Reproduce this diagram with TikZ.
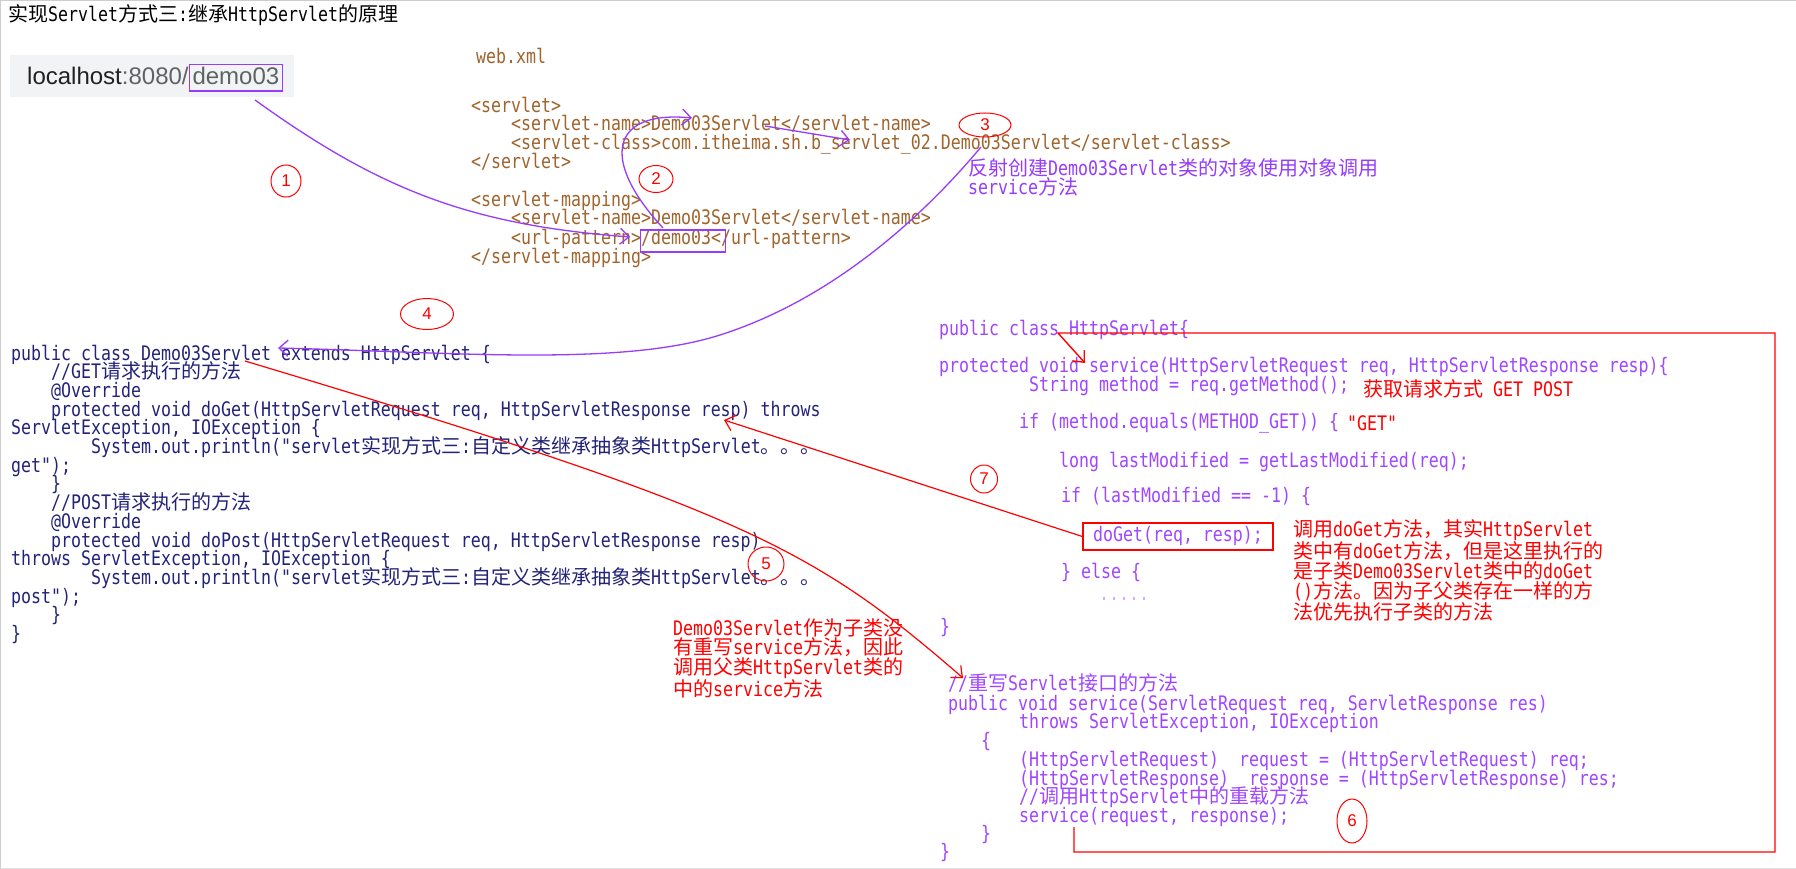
\documentclass[tikz,border=0pt]{standalone}
\usepackage{fontspec}
\usetikzlibrary{arrows.meta,shapes.geometric}
\newfontfamily\codefont{DejaVu Sans Mono}[FakeStretch=0.83]
\newfontfamily\zhfont{Noto Sans CJK SC}
\newfontfamily\urlfont{Liberation Sans}
% switch to the CJK font for Chinese characters
\XeTeXinterchartokenstate=1
\newXeTeXintercharclass\zhclass
\newcount\zhcode
\zhcode="4E00
\loop
  \XeTeXcharclass\zhcode=\zhclass
  \ifnum\zhcode<"9FFF \advance\zhcode by 1 \repeat
\XeTeXcharclass"3002=\zhclass
\XeTeXcharclass"FF0C=\zhclass
\XeTeXinterchartoks 0 \zhclass = {\zhfont}
\XeTeXinterchartoks 4095 \zhclass = {\zhfont}
\XeTeXinterchartoks \zhclass 0 = {\codefont}
\XeTeXinterchartoks \zhclass 4095 = {\codefont}
\definecolor{xmlbrown}{RGB}{160,100,45}
\definecolor{subnavy}{RGB}{35,35,120}
\definecolor{penpurple}{RGB}{150,60,250}
\definecolor{parentpurple}{RGB}{160,70,255}
\definecolor{urlbg}{RGB}{241,243,244}
\definecolor{urldark}{RGB}{32,33,36}
\definecolor{urlgray}{RGB}{95,99,104}
\definecolor{framegray}{RGB}{205,205,205}

\begin{document}
\begin{tikzpicture}[x=1pt, y=-1pt, >={Straight Barb[length=9pt,width=16pt]},
	code/.style={anchor=west, inner sep=0pt, text height=15pt, text depth=5pt, font=\codefont\fontsize{20}{19}\selectfont},
	xml/.style={code, text=xmlbrown},
	subcode/.style={code, text=subnavy},
	parentcode/.style={code, text=parentpurple},
	note/.style={anchor=west, inner sep=0pt, align=left, font=\codefont\fontsize{20}{19}\selectfont},
	urltext/.style={inner sep=0pt, font=\urlfont\fontsize{24}{24}\selectfont},
	numcirc/.style={ellipse, draw=red, line width=1pt, inner sep=0pt, text=red, font=\urlfont\fontsize{17}{17}\selectfont},
	handp/.style={draw=penpurple, line width=1.3pt, ->},
	handr/.style={draw=red, line width=1.2pt, ->}]
	\fill[white] (0,0) rectangle (1796,869);
	\useasboundingbox (0,0) rectangle (1796,869);
	\draw[framegray, line width=1pt] (0,0.5) -- (1796,0.5);
	\draw[framegray, line width=1pt] (0.5,0) -- (0.5,869);
	\draw[framegray!60, line width=1pt] (0,868) -- (1796,868);

	% title and address bar
	\node[code, text=black] (title) at (8,17) {实现Servlet方式三:继承HttpServlet的原理};
	\fill[urlbg] (10,55) rectangle (294,97);
	\node[urltext, text=urldark, anchor=base west] (urlhost) at (27,85) {localhost\textcolor{urlgray}{:8080/}};
	\node[urltext, text=urlgray, anchor=base west, draw=penpurple, line width=1.3pt, inner sep=3pt, text depth=3pt] (urlpath) at (urlhost.base east) {demo03};

	% web.xml
	\node[xml] (webxml) at (476,59) {web.xml};
	\node[xml] (x1) at (471,108) {<servlet>};
	\node[xml] (x2) at (511,126) {<servlet-name>Demo03Servlet</servlet-name>};
	\node[xml] (x3) at (511,145) {<servlet-class>com.itheima.sh.b\_servlet\_02.Demo03Servlet</servlet-class>};
	\node[xml] (x4) at (471,164) {</servlet>};
	\node[xml] (x5) at (471,202) {<servlet-mapping>};
	\node[xml] (x6) at (511,220) {<servlet-name>Demo03Servlet</servlet-name>};
	\node[xml] (x7) at (511,239) {<url-pattern>/demo03</url-pattern>};
	\node[xml] (x8) at (471,258) {</servlet-mapping>};
	\node[draw=penpurple, line width=1.3pt, minimum width=85pt, minimum height=22pt, inner sep=0pt] (urlbox) at (683,241) {};
	\node[note, text=penpurple] (reflect) at (968,177.5) {反射创建Demo03Servlet类的对象使用对象调用\\service方法};

	% subclass Demo03Servlet
	\node[subcode] (d1) at (11,355) {public class Demo03Servlet extends HttpServlet \{};
	\node[subcode] (d2) at (51,373.7) {//GET请求执行的方法};
	\node[subcode] (d3) at (51,392.4) {@Override};
	\node[subcode] (d4) at (51,411.1) {protected void doGet(HttpServletRequest req, HttpServletResponse resp) throws};
	\node[subcode] (d5) at (11,429.8) {ServletException, IOException \{};
	\node[subcode] (d6) at (91,448.5) {System.out.println("servlet实现方式三:自定义类继承抽象类HttpServlet。。。};
	\node[subcode] (d7) at (11,467.2) {get");};
	\node[subcode] (d8) at (51,485.9) {\}};
	\node[subcode] (d9) at (51,504.6) {//POST请求执行的方法};
	\node[subcode] (d10) at (51,523.3) {@Override};
	\node[subcode] (d11) at (51,542) {protected void doPost(HttpServletRequest req, HttpServletResponse resp)};
	\node[subcode] (d12) at (11,560.7) {throws ServletException, IOException \{};
	\node[subcode] (d13) at (91,579.4) {System.out.println("servlet实现方式三:自定义类继承抽象类HttpServlet。。。};
	\node[subcode] (d14) at (11,598.1) {post");};
	\node[subcode] (d15) at (51,616.8) {\}};
	\node[subcode] (d16) at (11,635.5) {\}};

	% parent class HttpServlet
	\node[parentcode] (h1) at (939,330) {public class HttpServlet\{};
	\node[parentcode] (h2) at (939,367) {protected void service(HttpServletRequest req, HttpServletResponse resp)\{};
	\node[parentcode] (h3) at (1029,386) {String method = req.getMethod();};
	\node[parentcode] (h4) at (1019,423) {if (method.equals(METHOD\_GET)) \{};
	\node[parentcode] (h5) at (1059,462) {long lastModified = getLastModified(req);};
	\node[parentcode] (h6) at (1061,497) {if (lastModified == -1) \{};
	\node[parentcode, draw=red, line width=1.3pt, anchor=center, minimum width=190pt, minimum height=27pt] (h7) at (1178,536.5) {doGet(req, resp);};
	\node[parentcode] (h8) at (1061,573) {\} else \{};
	\node[code, text=parentpurple!45] (h9) at (1099,595) {.....};
	\node[parentcode] (h10) at (940,628) {\}};
	\node[note, text=red] (getpost) at (1363,389) {获取请求方式 GET POST};
	\node[note, text=red] (getstr) at (1347,423) {"GET"};
	\node[note, text=red, font=\codefont\fontsize{20}{18.5}\selectfont] (dogetnote) at (1293,570.3) {调用doGet方法，其实HttpServlet\\类中有doGet方法，但是这里执行的\\是子类Demo03Servlet类中的doGet\\()方法。因为子父类存在一样的方\\法优先执行子类的方法};
	\node[note, text=red] (servicenote) at (673,658.3) {Demo03Servlet作为子类没\\有重写service方法，因此\\调用父类HttpServlet类的\\中的service方法};

	% service(ServletRequest, ServletResponse)
	\node[parentcode] (s1) at (948,685) {//重写Servlet接口的方法};
	\node[parentcode] (s2) at (948,705) {public void service(ServletRequest req, ServletResponse res)};
	\node[parentcode] (s3) at (1019,723) {throws ServletException, IOException};
	\node[parentcode] (s4) at (981,742) {\{};
	\node[parentcode] (s5) at (1019,761) {(HttpServletRequest)\ \ request = (HttpServletRequest) req;};
	\node[parentcode] (s6) at (1019,780) {(HttpServletResponse)\ \ response = (HttpServletResponse) res;};
	\node[parentcode] (s7) at (1019,798) {//调用HttpServlet中的重载方法};
	\node[parentcode] (s8) at (1019,817) {service(request, response);};
	\node[parentcode] (s9) at (981,835) {\}};
	\node[parentcode] (s10) at (940,853) {\}};

	% step numbers
	\node[numcirc, minimum width=30pt, minimum height=32pt] (c1) at (286,181) {1};
	\node[numcirc, minimum width=34pt, minimum height=27pt] (c2) at (656,179) {2};
	\node[numcirc, minimum width=52pt, minimum height=24pt] (c3) at (985,125) {\raisebox{-6pt}{3}};
	\node[numcirc, minimum width=53pt, minimum height=31pt] (c4) at (427,314) {4};
	\node[numcirc, minimum width=36pt, minimum height=34pt] (c5) at (766,564) {5};
	\node[numcirc, minimum width=30pt, minimum height=44pt] (c6) at (1352,821) {6};
	\node[numcirc, minimum width=27pt, minimum height=28pt] (c7) at (984,479) {7};

	% ends of the hand-drawn strokes
	\coordinate (p1s) at (255,100);
	\coordinate (p1e) at (630,237);
	\coordinate (p2s) at (663,228);
	\coordinate (p2e) at (692,118);
	\coordinate (p2b) at (765,126);
	\coordinate (p2c) at (850,140);
	\coordinate (p4s) at (981,147);
	\coordinate (p4e) at (278,348);
	\coordinate (p5s) at (245,361);
	\coordinate (p5e) at (963,678);
	\coordinate (p6s) at (1074,827);
	\coordinate (p6r) at (1775,852);
	\coordinate (p6t) at (1058,333);
	\coordinate (p6e) at (1085,363);
	\coordinate (p7e) at (724,420);

	\draw[handp] (p1s) .. controls (380,190) and (470,225) .. (p1e);
	\draw[handp] (p2s) .. controls (600,160) and (610,110) .. (p2e);
	\draw[handp] (p2b) -- (p2c);
	\draw[handp] (p4s) .. controls (920,220) and (830,300) .. (720,335) .. controls (620,367) and (450,352) .. (p4e);
	\draw[handr] (p5s) .. controls (745,511) and (813,548) .. (p5e);
	\draw[handr, line width=1.4pt] (p6s) |- (p6r) |- (p6t) -- (p6e);
	\draw[handr] (h7.west) -- (p7e);
\end{tikzpicture}
\end{document}
